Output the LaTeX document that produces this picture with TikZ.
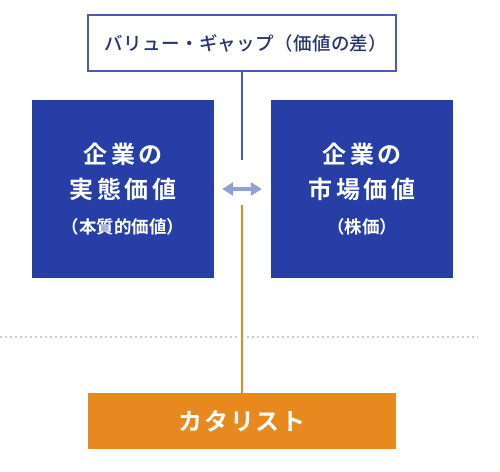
\documentclass[tikz,border=0pt]{standalone}
\usepackage{fontspec}
\usetikzlibrary{positioning,arrows.meta}
\newfontfamily\jpbold[LetterSpace=15]{Noto Sans CJK JP Bold}
\newfontfamily\jpsub[LetterSpace=0]{Noto Sans CJK JP Bold}
\newfontfamily\jpgap[LetterSpace=2]{Noto Sans CJK JP Medium}
\newfontfamily\jpcat[LetterSpace=8]{Noto Sans CJK JP Bold}
\definecolor{valueblue}{RGB}{38,62,165}
\definecolor{gapblue}{RGB}{72,92,178}
\definecolor{gapnavy}{RGB}{42,52,110}
\definecolor{arrowblue}{RGB}{143,160,212}
\definecolor{catorange}{RGB}{232,137,32}
\definecolor{dotgray}{RGB}{205,205,205}

\begin{document}
\begin{tikzpicture}[
        x=1pt, y=-1pt,
        gapbox/.style={draw=gapblue, line width=1.3pt, fill=white, minimum width=308pt, minimum height=56pt, inner sep=0pt, text=gapnavy, font=\jpgap\fontsize{18.5}{22}\selectfont},
        valuebox/.style={fill=valueblue, minimum width=182pt, minimum height=178pt, inner sep=0pt, text=white, align=center, font=\jpbold\fontsize{24}{35}\selectfont},
        catbox/.style={fill=catorange, minimum width=308pt, minimum height=56pt, inner sep=0pt, text=white, font=\jpcat\fontsize{24}{28}\selectfont},
        gapline/.style={draw=gapblue, line width=1.2pt},
        catline/.style={draw=catorange, line width=1.5pt},
        gaparrow/.style={{Triangle[length=11pt,width=13pt]}-{Triangle[length=11pt,width=13pt]}, draw=arrowblue, line width=4pt},
        dotline/.style={draw=dotgray, line width=1.4pt, dash pattern=on 1.5pt off 3.5pt}
    ]
        \useasboundingbox (0,0) rectangle (500,471);
        \node[gapbox] (gap) at (242,43) {\hspace*{8pt}バリュー・ギャップ（価値の差）};
        \node[valuebox] (real) at (123,189) {企業の\\ 実態価値\\[0pt] \jpsub\fontsize{17.5}{20}\selectfont （本質的価値）};
        \node[valuebox] (market) at (362,189) {企業の\\ 市場価値\\[0pt] \jpsub\fontsize{17.5}{20}\selectfont （株価）};
        \node[catbox] (catalyst) at (242,421) {カタリスト};
        \coordinate (gapend) at (242,160);
        \coordinate (catstart) at (242,205);
        \coordinate (dotleft) at (0,337);
        \coordinate (dotright) at (478,337);
        \coordinate (dotgapl) at (238,337);
        \coordinate (dotgapr) at (247,337);
        \draw[dotline] (dotleft) -- (dotgapl);
        \draw[dotline] (dotgapr) -- (dotright);
        \draw[gapline] (gap.south) -- (gapend);
        \draw[catline] (catstart) -- (catalyst.north);
        \draw[gaparrow, shorten <=8pt, shorten >=9pt] (real.east) -- (market.west);
    \end{tikzpicture}
\end{document}
